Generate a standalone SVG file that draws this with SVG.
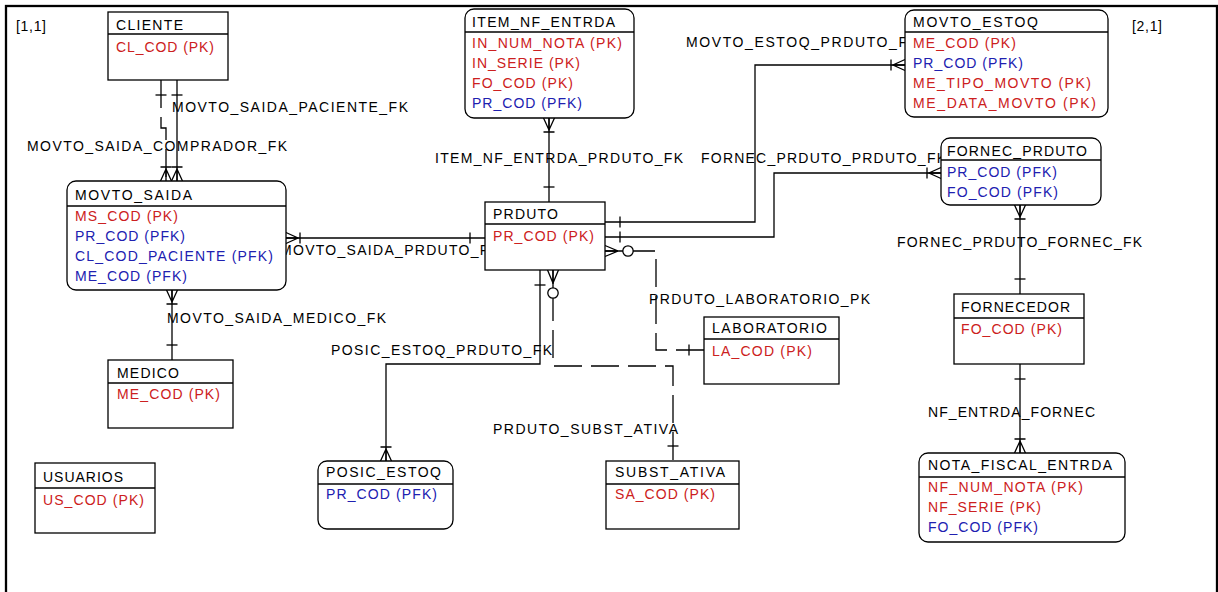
<svg xmlns="http://www.w3.org/2000/svg" width="1218" height="592" viewBox="0 0 1218 592">
<style>
.box{fill:#fff;stroke:#000;stroke-width:1.3}
.sep{stroke:#000;stroke-width:1.3}
text{font-family:"Liberation Sans",Arial,sans-serif;font-size:14px}
.t{fill:#000}
.pk{fill:#cc2020}
.fk{fill:#2020b0}
.lbl{fill:#000}
.c{fill:none;stroke:#000;stroke-width:1.3}
.d{stroke-dasharray:28 9}
</style>
<defs>
<marker id="one" markerUnits="userSpaceOnUse" markerWidth="30" markerHeight="16" refX="0" refY="0" orient="auto-start-reverse" overflow="visible">
<path d="M-15,-5.5V5.5" stroke="#000" stroke-width="1.3" fill="none"/>
</marker>
<marker id="many" markerUnits="userSpaceOnUse" markerWidth="30" markerHeight="16" refX="0" refY="0" orient="auto-start-reverse" overflow="visible">
<path d="M0,-5.5L-12,0L0,5.5M-12,0H0M-14,-5.5V5.5" stroke="#000" stroke-width="1.3" fill="none"/>
</marker>
<marker id="many0" markerUnits="userSpaceOnUse" markerWidth="30" markerHeight="16" refX="0" refY="0" orient="auto-start-reverse" overflow="visible">
<path d="M0,-5.5L-13,0L0,5.5M-18,0H0" stroke="#000" stroke-width="1.3" fill="none"/>
<circle cx="-23" cy="0" r="5.2" fill="#fff" stroke="#000" stroke-width="1.3"/>
</marker>
</defs>
<rect x="6" y="6" width="1211" height="600" fill="none" stroke="#000" stroke-width="2.3"/>
<text class="t" x="16" y="31" textLength="30">[1,1]</text>
<text class="t" x="1132" y="31" textLength="30">[2,1]</text>

<g id="connectors">
<path id="movto_saida_paciente_fk" class="c" d="M177,80V181" marker-start="url(#one)" marker-end="url(#many)"/>
<path id="movto_saida_comprador_fk" class="c d" d="M161,80V128H166V181" marker-start="url(#one)" marker-end="url(#many)"/>
<path id="movto_saida_medico_fk" class="c" d="M172,360V290" marker-start="url(#one)" marker-end="url(#many)"/>
<path id="movto_saida_prduto_fk" class="c" d="M485,238H286" marker-start="url(#one)" marker-end="url(#many)"/>
<path id="item_nf_entrda_prduto_fk" class="c" d="M549,202V118" marker-start="url(#one)" marker-end="url(#many)"/>
<path id="movto_estoq_prduto_fk" class="c" d="M605,222H755V65H905" marker-start="url(#one)" marker-end="url(#many)"/>
<path id="fornec_prduto_prduto_fk" class="c" d="M605,237H774V173H941" marker-start="url(#one)" marker-end="url(#many)"/>
<path id="fornec_prduto_fornec_fk" class="c" d="M1020,294V205" marker-start="url(#one)" marker-end="url(#many)"/>
<path id="nf_entrda_fornec" class="c" d="M1020,364V453" marker-start="url(#one)" marker-end="url(#many)"/>
<path id="posic_estoq_prduto_fk" class="c" d="M540,270V364H386V461" marker-start="url(#one)" marker-end="url(#many)"/>
<path id="prduto_laboratorio_pk" class="c d" style="stroke-dashoffset:15" d="M605,251H656V350H704" marker-start="url(#many0)" marker-end="url(#one)"/>
<path id="prduto_subst_ativa" class="c d" style="stroke-dashoffset:14" d="M553,270V366H673V461" marker-start="url(#many0)" marker-end="url(#one)"/>
</g>

<g id="connector-labels">
<text class="lbl" x="172" y="112" textLength="236">MOVTO_SAIDA_PACIENTE_FK</text>
<text class="lbl" x="27" y="151" textLength="260">MOVTO_SAIDA_COMPRADOR_FK</text>
<text class="lbl" x="167" y="323" textLength="219">MOVTO_SAIDA_MEDICO_FK</text>
<text class="lbl" x="280" y="255" textLength="219">MOVTO_SAIDA_PRDUTO_FK</text>
<text class="lbl" x="435" y="163" textLength="248">ITEM_NF_ENTRDA_PRDUTO_FK</text>
<text class="lbl" x="686" y="47" textLength="232">MOVTO_ESTOQ_PRDUTO_FK</text>
<text class="lbl" x="701" y="163" textLength="245">FORNEC_PRDUTO_PRDUTO_FK</text>
<text class="lbl" x="897" y="247" textLength="245">FORNEC_PRDUTO_FORNEC_FK</text>
<text class="lbl" x="649" y="304" textLength="221">PRDUTO_LABORATORIO_PK</text>
<text class="lbl" x="331" y="355" textLength="221">POSIC_ESTOQ_PRDUTO_FK</text>
<text class="lbl" x="493" y="434" textLength="185">PRDUTO_SUBST_ATIVA</text>
<text class="lbl" x="928" y="417" textLength="167">NF_ENTRDA_FORNEC</text>
</g>

<g id="cliente">
<rect class="box" x="108" y="12" width="120" height="68"/>
<line class="sep" x1="108" y1="34" x2="228" y2="34"/>
<text class="t" x="116" y="30" textLength="67">CLIENTE</text>
<text class="pk" x="116" y="52" textLength="98">CL_COD (PK)</text>
</g>

<g id="movto_saida">
<rect class="box" x="67" y="181" width="219" height="109" rx="9"/>
<line class="sep" x1="67" y1="206" x2="286" y2="206"/>
<text class="t" x="75" y="200" textLength="117">MOVTO_SAIDA</text>
<text class="pk" x="75" y="221" textLength="103">MS_COD (PK)</text>
<text class="fk" x="75" y="241" textLength="110">PR_COD (PFK)</text>
<text class="fk" x="75" y="261" textLength="198">CL_COD_PACIENTE (PFK)</text>
<text class="fk" x="75" y="281" textLength="112">ME_COD (PFK)</text>
</g>

<g id="medico">
<rect class="box" x="108" y="360" width="125" height="68"/>
<line class="sep" x1="108" y1="383" x2="233" y2="383"/>
<text class="t" x="117" y="378" textLength="62">MEDICO</text>
<text class="pk" x="117" y="399" textLength="103">ME_COD (PK)</text>
</g>

<g id="item_nf_entrda">
<rect class="box" x="465" y="9" width="169" height="109" rx="9"/>
<line class="sep" x1="465" y1="32" x2="634" y2="32"/>
<text class="t" x="472" y="27" textLength="143">ITEM_NF_ENTRDA</text>
<text class="pk" x="472" y="48" textLength="150">IN_NUM_NOTA (PK)</text>
<text class="pk" x="472" y="68" textLength="108">IN_SERIE (PK)</text>
<text class="pk" x="472" y="88" textLength="101">FO_COD (PK)</text>
<text class="fk" x="472" y="108" textLength="110">PR_COD (PFK)</text>
</g>

<g id="movto_estoq">
<rect class="box" x="905" y="10" width="203" height="107" rx="9"/>
<line class="sep" x1="905" y1="32" x2="1108" y2="32"/>
<text class="t" x="913" y="27" textLength="125">MOVTO_ESTOQ</text>
<text class="pk" x="913" y="48" textLength="103">ME_COD (PK)</text>
<text class="fk" x="913" y="68" textLength="110">PR_COD (PFK)</text>
<text class="pk" x="913" y="88" textLength="178">ME_TIPO_MOVTO (PK)</text>
<text class="pk" x="913" y="108" textLength="183">ME_DATA_MOVTO (PK)</text>
</g>

<g id="fornec_prduto">
<rect class="box" x="941" y="138" width="160" height="67" rx="9"/>
<line class="sep" x1="941" y1="160" x2="1101" y2="160"/>
<text class="t" x="947" y="156" textLength="140">FORNEC_PRDUTO</text>
<text class="fk" x="947" y="177" textLength="110">PR_COD (PFK)</text>
<text class="fk" x="947" y="197" textLength="111">FO_COD (PFK)</text>
</g>

<g id="prduto">
<rect class="box" x="485" y="202" width="120" height="68"/>
<line class="sep" x1="485" y1="224" x2="605" y2="224"/>
<text class="t" x="493" y="219" textLength="65">PRDUTO</text>
<text class="pk" x="493" y="241" textLength="101">PR_COD (PK)</text>
</g>

<g id="laboratorio">
<rect class="box" x="704" y="317" width="135" height="67"/>
<line class="sep" x1="704" y1="339" x2="839" y2="339"/>
<text class="t" x="712" y="333" textLength="115">LABORATORIO</text>
<text class="pk" x="712" y="356" textLength="100">LA_COD (PK)</text>
</g>

<g id="fornecedor">
<rect class="box" x="954" y="294" width="130" height="70"/>
<line class="sep" x1="954" y1="318" x2="1084" y2="318"/>
<text class="t" x="961" y="312" textLength="109">FORNECEDOR</text>
<text class="pk" x="961" y="334" textLength="101">FO_COD (PK)</text>
</g>

<g id="nota_fiscal_entrda">
<rect class="box" x="919" y="453" width="206" height="89" rx="9"/>
<line class="sep" x1="919" y1="477" x2="1125" y2="477"/>
<text class="t" x="928" y="470" textLength="184">NOTA_FISCAL_ENTRDA</text>
<text class="pk" x="928" y="492" textLength="155">NF_NUM_NOTA (PK)</text>
<text class="pk" x="928" y="512" textLength="113">NF_SERIE (PK)</text>
<text class="fk" x="928" y="532" textLength="110">FO_COD (PFK)</text>
</g>

<g id="subst_ativa">
<rect class="box" x="606" y="461" width="133" height="68"/>
<line class="sep" x1="606" y1="484" x2="739" y2="484"/>
<text class="t" x="615" y="477" textLength="110">SUBST_ATIVA</text>
<text class="pk" x="615" y="499" textLength="100">SA_COD (PK)</text>
</g>

<g id="posic_estoq">
<rect class="box" x="318" y="461" width="135" height="68" rx="9"/>
<line class="sep" x1="318" y1="484" x2="453" y2="484"/>
<text class="t" x="326" y="477" textLength="115">POSIC_ESTOQ</text>
<text class="fk" x="326" y="499" textLength="111">PR_COD (PFK)</text>
</g>

<g id="usuarios">
<rect class="box" x="35" y="463" width="120" height="70"/>
<line class="sep" x1="35" y1="488" x2="155" y2="488"/>
<text class="t" x="43" y="482" textLength="80">USUARIOS</text>
<text class="pk" x="43" y="505" textLength="101">US_COD (PK)</text>
</g>
</svg>
